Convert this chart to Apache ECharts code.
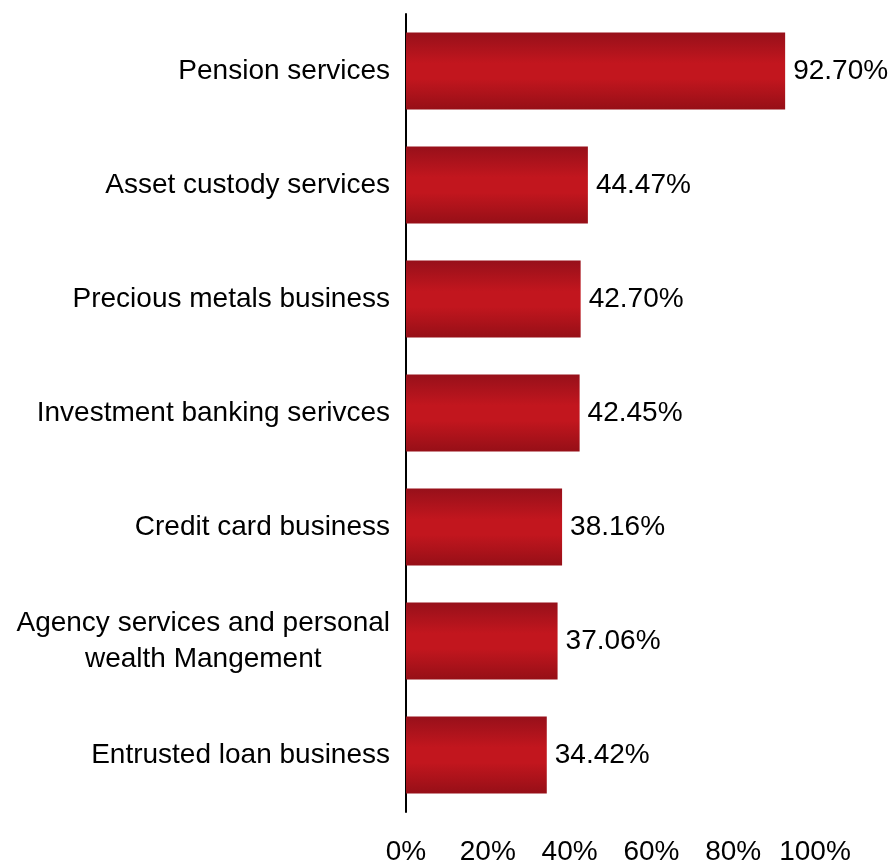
<!DOCTYPE html>
<html>
<head>
<meta charset="utf-8">
<script src="https://cdn.jsdelivr.net/npm/echarts@6/dist/echarts.min.js"></script>
<style>
  html, body { margin: 0; padding: 0; background: #fff; }
  #chart { width: 890px; height: 866px; }
</style>
</head>
<body>
<div id="chart"></div>
<script>
// Business lines, top to bottom
const categories = [
  'Pension services',
  'Asset custody services',
  'Precious metals business',
  'Investment banking serivces',
  'Credit card business',
  'Agency services and personal\nwealth Mangement',
  'Entrusted loan business'
];
// Growth rate, percent
const values = [92.70, 44.47, 42.70, 42.45, 38.16, 37.06, 34.42];
// Value axis ticks, percent
const tickValues = [0, 20, 40, 60, 80, 100];

const FONT = 'Liberation Sans, Arial, sans-serif';
const FS = 28;

const chart = echarts.init(document.getElementById('chart'));
chart.setOption({
  animation: false,
  backgroundColor: '#ffffff',
  grid: { left: 406, right: 75, top: 14, bottom: 52, containLabel: false },
  xAxis: {
    type: 'value',
    min: tickValues[0],
    max: tickValues[tickValues.length - 1],
    interval: tickValues[1] - tickValues[0],
    axisLine: { show: false },
    axisTick: { show: false },
    splitLine: { show: false },
    axisLabel: {
      formatter: '{value}%',
      color: '#000',
      fontFamily: FONT,
      fontSize: FS,
      margin: 26
    }
  },
  yAxis: {
    type: 'category',
    inverse: true,
    data: categories,
    axisLine: { show: true, lineStyle: { color: '#000', width: 2 } },
    axisTick: { show: false },
    splitLine: { show: false },
    axisLabel: {
      color: '#000',
      fontFamily: FONT,
      fontSize: FS,
      margin: 16,
      lineHeight: 36,
      formatter: function (v) {
        return v.split('\n').map(function (line) { return '{c|' + line + '}'; }).join('\n');
      },
      rich: {
        c: { align: 'center', color: '#000', fontFamily: FONT, fontSize: FS, lineHeight: 36 }
      }
    }
  },
  series: [{
    type: 'bar',
    data: values,
    barCategoryGap: '32.6%',
    itemStyle: {
      color: new echarts.graphic.LinearGradient(0, 0, 0, 1, [
        { offset: 0, color: '#97101a' },
        { offset: 0.4, color: '#c2161e' },
        { offset: 0.6, color: '#c2161e' },
        { offset: 1, color: '#960f17' }
      ])
    },
    label: {
      show: true,
      position: 'right',
      distance: 8,
      color: '#000',
      fontFamily: FONT,
      fontSize: FS,
      formatter: function (p) { return p.value.toFixed(2) + '%'; }
    }
  }]
});
</script>
</body>
</html>
